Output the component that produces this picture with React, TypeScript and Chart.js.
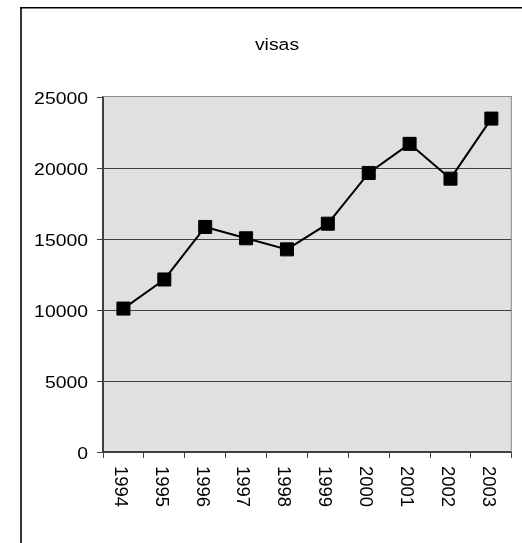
import React, { useEffect, useRef } from "react";
import { Chart, registerables } from "chart.js";

Chart.register(...registerables);

// Yearly visa counts
const years = ["1994", "1995", "1996", "1997", "1998", "1999", "2000", "2001", "2002", "2003"];
const visas = [10100, 12150, 15850, 15050, 14270, 16080, 19650, 21700, 19250, 23480];
const yTicks = [0, 5000, 10000, 15000, 20000, 25000];
const chartTitle = "visas";

const FONT = '"Liberation Sans", Arial, sans-serif';
const GRID = "#404040";

// Background of the plot area and its light border
const plotBackground = {
  id: "plotBackground",
  beforeDraw(chart: any) {
    const { ctx, chartArea: a } = chart;
    ctx.save();
    ctx.fillStyle = "#ffffff";
    ctx.fillRect(0, 0, chart.width, chart.height);
    ctx.fillStyle = "#e0e0e0";
    ctx.fillRect(a.left, a.top, a.right - a.left, a.bottom - a.top);
    ctx.restore();
  },
  beforeDatasetsDraw(chart: any) {
    const { ctx, chartArea: a } = chart;
    ctx.save();
    ctx.fillStyle = "#8c8c8c";
    ctx.fillRect(a.left, a.top - 1, a.right - a.left, 1);
    ctx.fillRect(a.right - 1, a.top - 1, 1, a.bottom - a.top + 1);
    ctx.restore();
  },
};

// Outer frame, title and axis labels
const labelsAndFrame = {
  id: "labelsAndFrame",
  afterDraw(chart: any) {
    const { ctx } = chart;
    const xScale = chart.scales.x;
    const yScale = chart.scales.y;
    ctx.save();

    ctx.fillStyle = "#333333";
    ctx.fillRect(20, 7, 2, chart.height - 7);
    ctx.fillStyle = "#000000";
    ctx.fillRect(20, 7, chart.width - 20, 1.5);

    ctx.fillStyle = "#000000";
    ctx.textBaseline = "alphabetic";

    // title
    ctx.save();
    ctx.translate(277, 50);
    ctx.scale(1.19, 1);
    ctx.font = `16.3px ${FONT}`;
    ctx.textAlign = "center";
    ctx.fillText(chartTitle, 0, 0);
    ctx.restore();

    // y tick labels
    for (const v of yTicks) {
      const y = yScale.getPixelForValue(v);
      ctx.save();
      ctx.translate(88, y + 7);
      ctx.scale(1.19, 1);
      ctx.font = `16.3px ${FONT}`;
      ctx.textAlign = "right";
      ctx.fillText(String(v), 0, 0);
      ctx.restore();
    }

    // x tick labels, reading top to bottom
    years.forEach((label, i) => {
      const x = xScale.getPixelForValue(i);
      ctx.save();
      ctx.translate(x - 8.6, 466);
      ctx.rotate(Math.PI / 2);
      ctx.font = `18.5px ${FONT}`;
      ctx.textAlign = "left";
      ctx.fillText(label, 0, 0);
      ctx.restore();
    });

    ctx.restore();
  },
};

export default function App() {
  const canvasRef = useRef<HTMLCanvasElement | null>(null);

  useEffect(() => {
    if (!canvasRef.current) return;
    const chart = new Chart(canvasRef.current, {
      type: "line",
      data: {
        labels: years,
        datasets: [
          {
            label: chartTitle,
            data: visas,
            borderColor: "#000000",
            borderWidth: 2,
            tension: 0,
            pointStyle: "rect",
            pointRadius: 9.2,
            pointBackgroundColor: "#000000",
            pointBorderColor: "#000000",
            pointBorderWidth: 1,
          },
        ],
      },
      options: {
        animation: false,
        responsive: false,
        devicePixelRatio: 1,
        layout: { padding: { top: 97, right: 1, left: 0, bottom: 0 } },
        plugins: {
          legend: { display: false },
          title: { display: false },
          tooltip: { enabled: false },
        },
        scales: {
          x: {
            type: "category",
            offset: true,
            grid: {
              offset: true,
              drawOnChartArea: false,
              drawTicks: true,
              tickLength: 6,
              tickColor: GRID,
              color: GRID,
            },
            border: { display: true, color: GRID, width: 2 },
            ticks: { display: false },
            afterFit: (s: any) => {
              s.height = 91;
            },
          },
          y: {
            min: 0,
            max: 25000,
            ticks: { display: false, stepSize: 5000 },
            grid: {
              color: (c: any) => (c.tick && c.tick.value === 25000 ? "rgba(0,0,0,0)" : GRID),
              tickColor: GRID,
              tickLength: 6,
            },
            border: { display: true, color: GRID, width: 2 },
            afterFit: (s: any) => {
              s.width = 103;
            },
          },
        },
      },
      plugins: [plotBackground, labelsAndFrame],
    });
    return () => chart.destroy();
  }, []);

  return (
    <div style={{ position: "fixed", left: 0, top: 0, width: 522, height: 543 }}>
      <canvas ref={canvasRef} width={522} height={543} style={{ display: "block" }} />
    </div>
  );
}
